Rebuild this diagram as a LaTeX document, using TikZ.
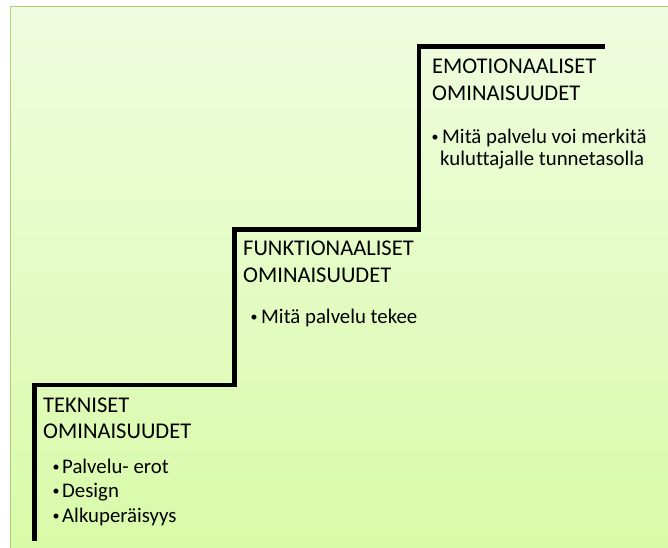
\documentclass[tikz,border=0pt]{standalone}
\usepackage{fontspec}
\setmainfont{Carlito}[Ligatures=NoCommon]
\usepackage{tikz}
\usetikzlibrary{calc}
\definecolor{bgtop}{RGB}{240,252,224}
\definecolor{bgbot}{RGB}{216,251,168}
\definecolor{frame}{RGB}{170,208,120}

\begin{document}
\begin{tikzpicture}[x=1pt, y=-1pt, title/.style={anchor=base west, inner sep=0, font=\fontsize{22.5}{27}\selectfont}, item/.style={anchor=base west, inner sep=0, font=\fontsize{20.8}{24}\selectfont}, dot/.style={anchor=center, inner sep=0, font=\fontsize{14}{14}\selectfont}, stair/.style={line width=4.5pt, black, line join=miter}]
\useasboundingbox (0,0) rectangle (668,547);
\clip (0,0) rectangle (668,547);
\shade[top color=bgtop, bottom color=bgbot, draw=frame, line width=1pt] (10,6) rectangle (672,552);
\coordinate (s0) at (34.5,541);
\coordinate (s1) at (34.5,385);
\coordinate (s2) at (234.5,385);
\coordinate (s3) at (234.5,229.5);
\coordinate (s4) at (419,229.5);
\coordinate (s5) at (419,46.5);
\coordinate (s6) at (605,46.5);
\draw[stair] (s0) -- (s1) -- (s2) -- (s3) -- (s4) -- (s5) -- (s6);
\node[title] (t1) at (43,412) {TEKNISET};
\node[title] (t2) at (43,438) {OMINAISUUDET};
\node[dot] (d1) at (56,468) {•};
\node[item] (i1) at (62,473) {Palvelu- erot};
\node[dot] (d2) at (56,492) {•};
\node[item] (i2) at (62,497) {Design};
\node[dot] (d3) at (56,517) {•};
\node[item] (i3) at (62,522) {Alkuperäisyys};
\node[title] (f1) at (243,255) {FUNKTIONAALISET};
\node[title] (f2) at (243,282) {OMINAISUUDET};
\node[dot] (d4) at (254,318) {•};
\node[item] (i4) at (261,323) {Mitä palvelu tekee};
\node[title] (e1) at (432,73) {EMOTIONAALISET};
\node[title] (e2) at (432,100) {OMINAISUUDET};
\node[dot] (d5) at (435,138) {•};
\node[item] (i5) at (442,143) {Mitä palvelu voi merkitä};
\node[item] (i6) at (440,165) {kuluttajalle tunnetasolla};
\end{tikzpicture}
\end{document}
